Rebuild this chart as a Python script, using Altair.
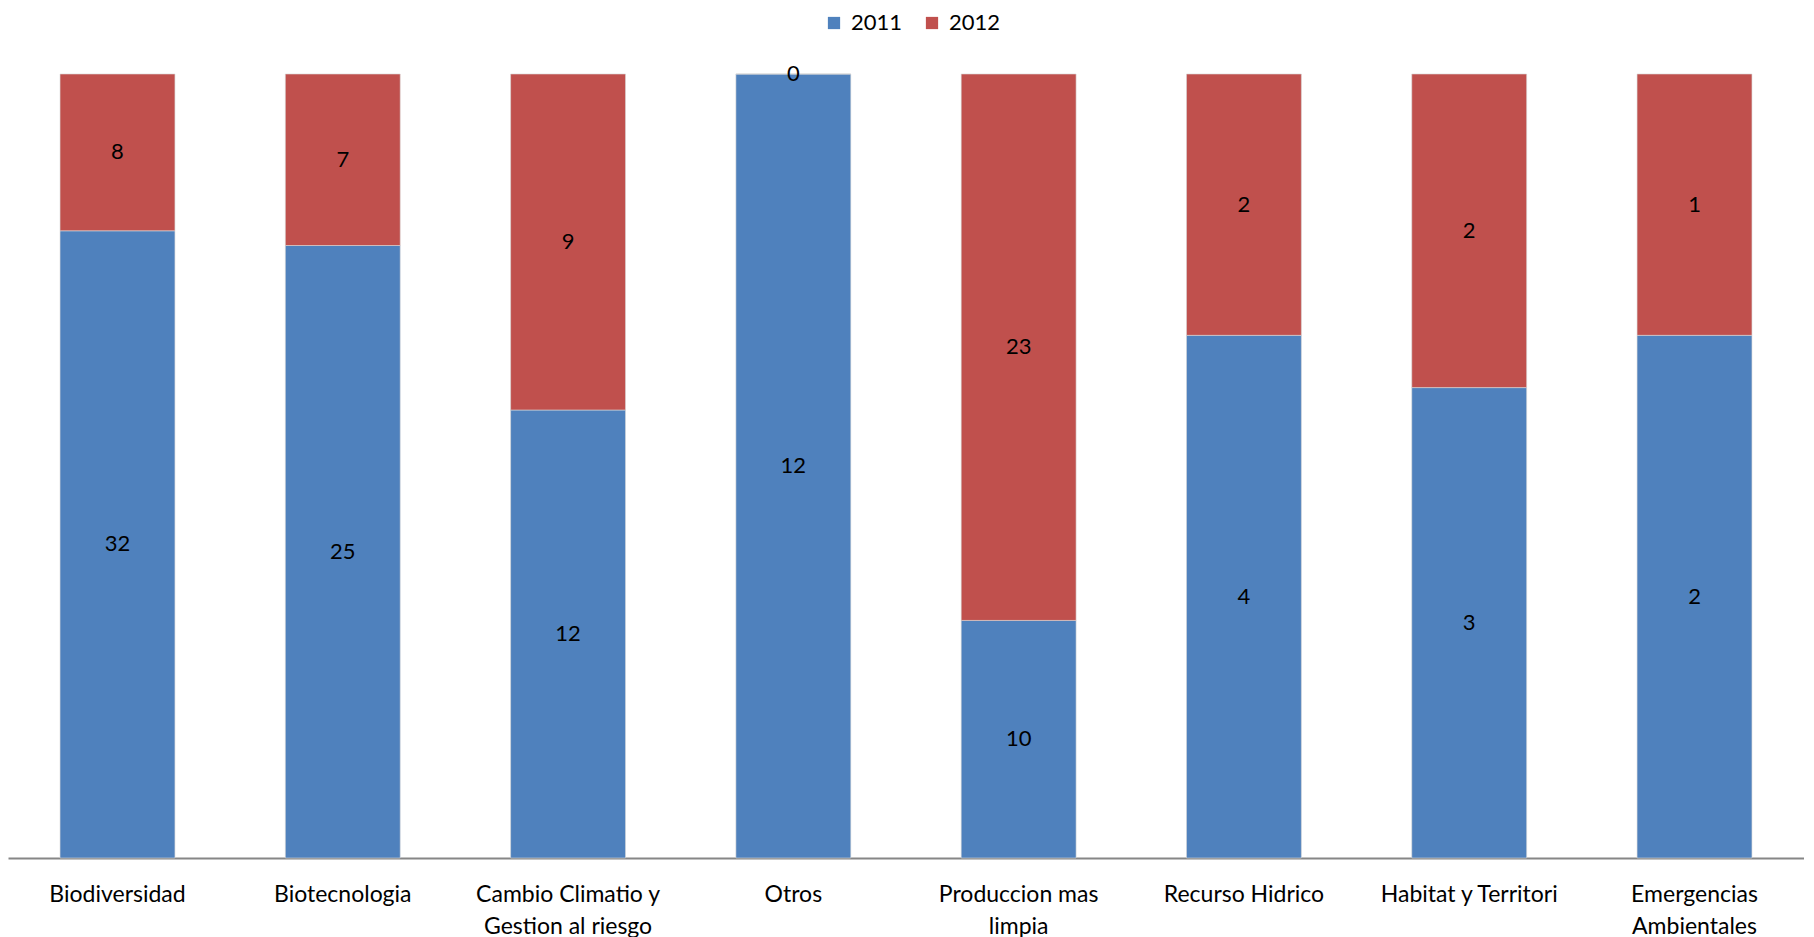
import altair as alt
import pandas as pd

categories = ["Biodiversidad", "Biotecnologia", "Cambio Climatio y|Gestion al riesgo", "Otros",
              "Produccion mas|limpia", "Recurso Hidrico", "Habitat y Territori", "Emergencias|Ambientales"]
v2011 = [32, 25, 12, 12, 10, 4, 3, 2]
v2012 = [8, 7, 9, 0, 23, 2, 2, 1]
series = ["2011", "2012"]

rows = []
for c, a, b in zip(categories, v2011, v2012):
    rows.append({"cat": c, "serie": "2011", "value": a, "ord": 0})
    rows.append({"cat": c, "serie": "2012", "value": b, "ord": 1})
df = pd.DataFrame(rows)

FONT = "Lato"

base = alt.Chart(df).transform_stack(
    stack="value", groupby=["cat"], as_=["v0", "v1"], offset="normalize",
    sort=[alt.SortField("ord", order="ascending")]
).transform_calculate(mid="(datum.v0 + datum.v1) / 2")

x = alt.X("cat:N", sort=categories, title=None,
          scale=alt.Scale(paddingInner=0.49, paddingOuter=0.231),
          axis=alt.Axis(labelExpr="split(datum.label, '|')", labelAngle=0, ticks=False,
                        domainColor="#868686", domainWidth=2, labelFont=FONT, labelFontSize=23,
                        labelColor="#000000", labelPadding=25, labelLineHeight=32,
                        labelBaseline="top", labelLimit=400, labelOverlap=False))

bars = base.mark_bar(stroke="#d9d9d9", strokeWidth=0.6).encode(
    x=x,
    y=alt.Y("v0:Q", axis=None, scale=alt.Scale(domain=[0, 1], nice=False)),
    y2="v1:Q",
    color=alt.Color("serie:N", scale=alt.Scale(domain=series, range=["#4F81BD", "#C0504D"]),
                    legend=alt.Legend(title=None, orient="none", direction="horizontal",
                                      legendX=811, legendY=-66, padding=4, symbolType="square",
                                      symbolSize=150, symbolStrokeWidth=0, labelFont=FONT,
                                      labelFontSize=22, labelColor="#000000", columnPadding=18,
                                      labelOffset=6, labelLimit=300)),
)

labels = base.mark_text(font=FONT, fontSize=22, color="#000000", baseline="middle").encode(
    x=alt.X("cat:N", sort=categories),
    y=alt.Y("mid:Q"),
    text=alt.Text("value:Q"),
)

chart = alt.layer(bars, labels).properties(
    width=1796, height=784, padding={"left": 0, "top": 0, "right": 0, "bottom": 0}
).configure_view(stroke=None)

chart.save("out.html", embed_options={"renderer": "svg", "actions": False})
